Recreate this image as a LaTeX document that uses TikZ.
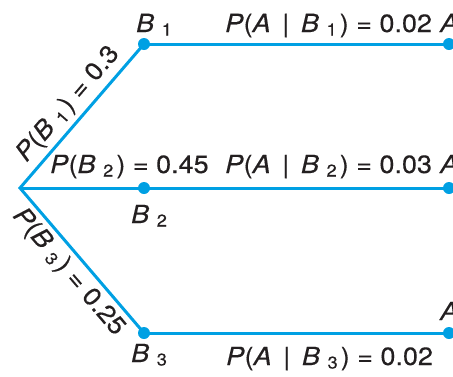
\documentclass[tikz,border=0pt]{standalone}
\usepackage{fontspec}
\setmainfont[FakeStretch=1.08,FakeBold=0.3]{TeX Gyre Heros}
\definecolor{lineblue}{RGB}{0,160,227}
\definecolor{ink}{RGB}{35,31,32}
\newcommand\ix[1]{\textit{#1}}
\newcommand\subx[1]{\kern0.3em\raisebox{-3.5pt}{\fontsize{17}{19}\selectfont #1}\kern0.12em}
\begin{document}
\begin{tikzpicture}[x=1pt,y=-1pt,
  every node/.style={text=ink, font=\fontsize{25}{29}\selectfont, inner sep=0pt},
  branch/.style={draw=lineblue, line width=3pt},
  dot/.style={circle, fill=lineblue, minimum size=12pt, inner sep=0pt}]
\clip (0,0) rectangle (453,376);
\coordinate (R) at (20,188);
\node[dot] (B1) at (144,44) {};
\node[dot] (B2) at (144,188) {};
\node[dot] (B3) at (144,333) {};
\node[dot] (A1) at (449,44) {};
\node[dot] (A2) at (449,188) {};
\node[dot] (A3) at (449,333) {};
\draw[branch] (B1.center) -- (R) -- (B3.center);
\draw[branch] (R) -- (A2.center);
\draw[branch] (B1.center) -- (A1.center);
\draw[branch] (B3.center) -- (A3.center);
\path (R) -- (B1.center) node[midway, sloped, above=6pt] (pb1) {\ix{P}(\ix{B}\subx{1}) = 0.3};
\path (R) -- (B3.center) node[midway, sloped, below=6pt] (pb3) {\ix{P}(\ix{B}\subx{3}) = 0.25};
\node[anchor=base west] (lb1) at (136,32) {\ix{B}\subx{1}};
\node[anchor=base west] (lb2) at (131,223) {\ix{B}\subx{2}};
\node[anchor=base west] (lb3) at (131,362) {\ix{B}\subx{3}};
\node[anchor=base west] (pb2) at (50,173) {\ix{P}(\ix{B}\subx{2}) = 0.45};
\node[anchor=base west] (pa1) at (225,32) {\ix{P}(\ix{A} \,|\, \ix{B}\subx{1}) = 0.02};
\node[anchor=base west] (pa2) at (225,173) {\ix{P}(\ix{A} \,|\, \ix{B}\subx{2}) = 0.03};
\node[anchor=base west] (pa3) at (226,365) {\ix{P}(\ix{A} \,|\, \ix{B}\subx{3}) = 0.02};
\node[anchor=base west] (la1) at (440,32) {\ix{A}};
\node[anchor=base west] (la2) at (440,173) {\ix{A}};
\node[anchor=base west] (la3) at (440,320) {\ix{A}};
\end{tikzpicture}
\end{document}
